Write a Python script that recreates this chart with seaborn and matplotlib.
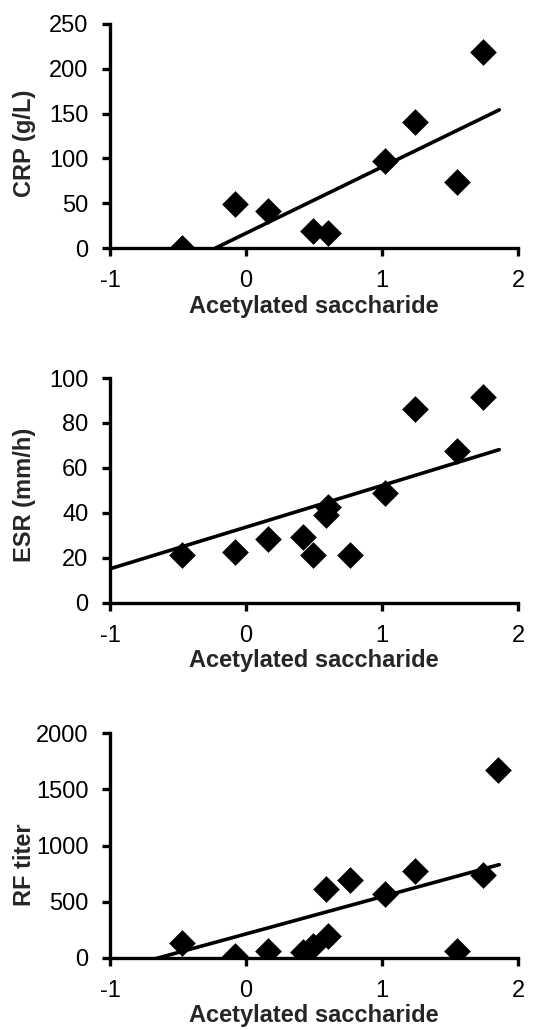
import numpy as np
import pandas as pd
import matplotlib
matplotlib.use("Agg")
import matplotlib.pyplot as plt
import seaborn as sns

sns.set_style(style='ticks')
plt.rcParams['font.family'] = ['Liberation Sans', 'DejaVu Sans']
plt.rcParams['axes.unicode_minus'] = False

# values
crp_x = [-0.47, -0.08, 0.16, 0.49, 0.60, 1.02, 1.24, 1.55, 1.74]
crp_y = [0, 49, 42, 19, 17, 97, 140, 74, 218]

esr_x = [-0.47, -0.08, 0.16, 0.42, 0.49, 0.59, 0.60, 0.76, 1.02, 1.24, 1.55, 1.74]
esr_y = [21, 22.5, 28.5, 29, 21, 39, 42.5, 21, 49, 86, 67.5, 91.5]

rf_x = [-0.47, -0.08, 0.16, 0.42, 0.49, 0.59, 0.60, 0.76, 1.02, 1.24, 1.55, 1.74, 1.85]
rf_y = [133, 21, 65, 50, 104, 613, 199, 696, 569, 770, 65, 741, 1674]

# trendlines as drawn in the figure (slope, intercept)
crp_trend = (73.8, 16.8)
esr_trend = (18.55, 33.6)
rf_trend = (331.6, 213.9)
trend_x = [-1.0, 1.86]

panels = [
    (crp_x, crp_y, crp_trend, 'CRP (g/L)', 250, 50, 0.469),
    (esr_x, esr_y, esr_trend, 'ESR (mm/h)', 100, 20, 0.479),
    (rf_x, rf_y, rf_trend, 'RF titer', 2000, 500, 0.416),
]
bottoms = [0.759, 0.415, 0.070]

fig = plt.figure(figsize=(5.45, 10.3), dpi=100)

for (xs, ys, trend, label, ymax, ystep, ylab_y), b in zip(panels, bottoms):
    ax = fig.add_axes([0.202, b, 0.749, 0.218])
    tx = np.array(trend_x)
    line = pd.DataFrame({'x': tx, 'y': trend[0] * tx + trend[1]})
    sns.lineplot(data=line, x='x', y='y', ax=ax, color='black', linewidth=2.6)
    sns.scatterplot(x=xs, y=ys, ax=ax, marker='D', color='black', s=185,
                    linewidth=0, zorder=3)
    ax.set_xlim(-1, 2)
    ax.set_ylim(0, ymax)
    ax.set_xticks([-1, 0, 1, 2])
    ax.set_yticks(np.arange(0, ymax + 1, ystep))
    sns.despine(ax=ax)
    for s in ['left', 'bottom']:
        ax.spines[s].set_linewidth(2.4)
        ax.spines[s].set_color('black')
    ax.tick_params(axis='both', direction='out', length=6, width=2.4,
                   labelsize=17, colors='black')
    ax.tick_params(axis='y', pad=9.5)
    ax.tick_params(axis='x', pad=10)
    ax.set_xlabel('Acetylated saccharide', fontsize=17, fontweight='bold', labelpad=1.5)
    ax.set_ylabel(label, fontsize=17, fontweight='bold')
    ax.yaxis.set_label_coords(-0.181, ylab_y)

fig.savefig('out.png', dpi=100)
